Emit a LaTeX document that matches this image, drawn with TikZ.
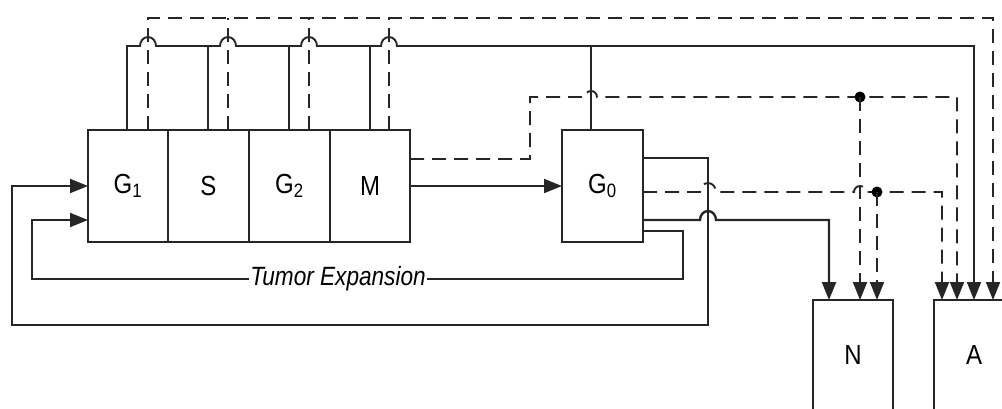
\documentclass[tikz,border=0pt]{standalone}
\usepackage{fontspec}
\setmainfont{Liberation Sans}
\usetikzlibrary{arrows.meta}
\newcommand\stretchlabel[1]{\scalebox{1}[1.15]{#1}}
\tikzset{
  wire/.style={line width=1.9pt, draw=black!85},
  dwire/.style={wire, dash pattern=on 14pt off 8pt},
  arrowed/.style={-{Triangle[length=18pt,width=14pt]}},
  cell/.style={draw=black!85, line width=1.9pt, minimum width=80pt,
    minimum height=112pt, inner sep=0pt, outer sep=0pt, anchor=north west,
    font=\fontsize{24}{24}\selectfont},
  hop/.style={insert path={to[out=90,in=180] ++(8,-9) to[out=0,in=90] ++(8,9)}},
  smallhop/.style={insert path={to[out=90,in=180] ++(6,-6) to[out=0,in=90] ++(6,6)}},
  junction/.style={circle, fill=black, inner sep=0pt, minimum size=11pt},
}
\begin{document}
\begin{tikzpicture}[x=1pt,y=-1pt]
\useasboundingbox (0,0) rectangle (1002,408);
\clip (0,0) rectangle (1002,408);

% cell cycle phases
\node[cell] (g1) at (88,130) {\stretchlabel{G\textsubscript{1}}};
\node[cell, minimum width=81pt] (s)  at (g1.north east) {\stretchlabel{S}};
\node[cell, minimum width=81pt] (g2) at (s.north east) {\stretchlabel{G\textsubscript{2}}};
\node[cell] (m)  at (g2.north east) {\stretchlabel{M}};
% quiescent, necrotic and apoptotic compartments
\node[cell, minimum width=81pt] (g0) at (562,130) {\stretchlabel{G\textsubscript{0}}};
\node[cell, minimum height=110pt] (n) at (813,300) {\stretchlabel{N}};
\node[cell, minimum height=110pt] (a) at (934,300) {\stretchlabel{A}};

% solid bus from the phases to A
\draw[wire, arrowed] ([xshift=-1pt]g1.north) -- (127,46) -- (140,46) [hop]
  -- (220,46) [hop] -- (301,46) [hop] -- (381,46) [hop] -- (974,46) -- (a.north);
\draw[wire] ([xshift=-0.5pt]s.north) -- ++(0,-84);
\draw[wire] ([xshift=-0.5pt]g2.north) -- ++(0,-84);
\draw[wire] (m.north) -- ++(0,-84);
\draw[wire] ([xshift=-11.5pt]g0.north) -- ++(0,-84);

% dashed bus from the phases to A
\draw[dwire, arrowed] ([xshift=20pt]g1.north) -- ++(0,-112) -- (993,18) -- ([xshift=19pt]a.north);
\draw[dwire] ([xshift=19.5pt]s.north) -- ++(0,-112);
\draw[dwire] ([xshift=19.5pt]g2.north) -- ++(0,-112);
\draw[dwire] ([xshift=19pt]m.north) -- ++(0,-112);

% M to G0
\draw[wire, arrowed] (m.east) -- (g0.west);

% dashed from M to N and A
\draw[dwire, arrowed] ([yshift=27pt]m.east) -- (530,159) -- (530,97) -- (585,97) [smallhop]
  -- (957,97) -- ([xshift=-17pt]a.north);
\node[junction] (j1) at (860,97) {};
\draw[dwire, arrowed] (j1.center) -- ([xshift=7pt]n.north);

% dashed from G0 to N and A
\draw[dwire, arrowed] ([yshift=-6pt]g0.east) -- (700,192) [hop] -- (854,192) [smallhop]
  -- (942,192) -- ([xshift=-32pt]a.north);
\node[junction] (j2) at (877,192) {};
\draw[dwire, arrowed] (j2.center) -- ([xshift=24pt]n.north);

% solid from G0 to N
\draw[wire, arrowed, line width=2.4pt] ([yshift=-34pt]g0.east) -- (700,220) [hop]
  -- (829,220) -- ([xshift=-24pt]n.north);

% outer loop back to G1
\draw[wire, arrowed] ([yshift=28pt]g0.east) -- (708,158) -- (708,325) -- (12,325)
  -- (12,186) -- (g1.west);

% tumor expansion loop
\draw[wire, arrowed] ([yshift=-45pt]g0.east) -- (683,231) -- (683,279)
  -- node[pos=0.53, fill=white, inner xsep=1pt, inner ysep=0pt,
          font=\fontsize{22.6}{22.6}\selectfont\itshape]
     {\scalebox{1}[1.17]{Tumor Expansion}} (32,279)
  -- (32,220) -- ([yshift=-34pt]g1.west);
\end{tikzpicture}
\end{document}
